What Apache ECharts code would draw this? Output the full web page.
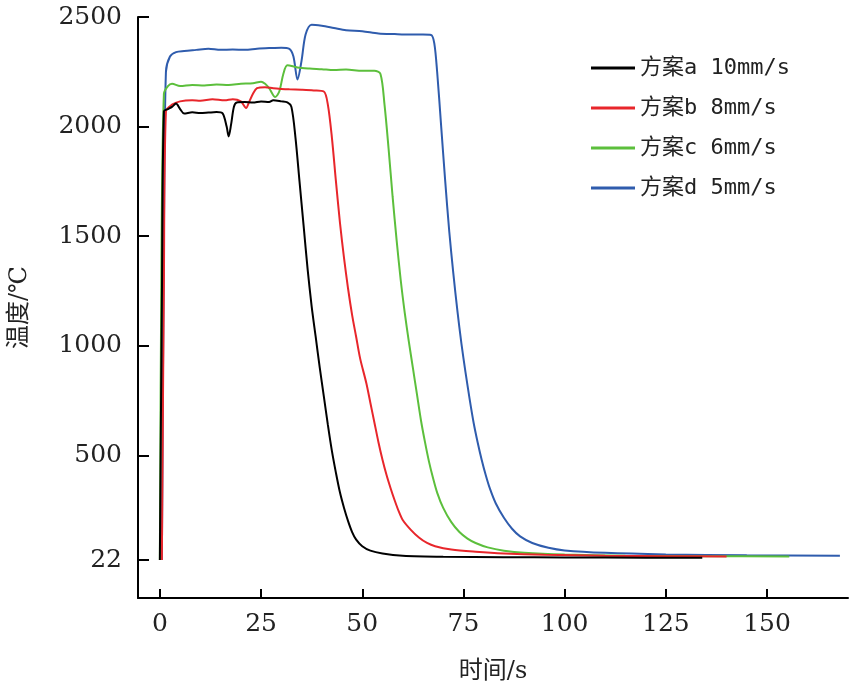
<!DOCTYPE html>
<html>
<head>
<meta charset="utf-8">
<script src="https://cdn.jsdelivr.net/npm/echarts@6/dist/echarts.min.js"></script>
<style>html,body{margin:0;padding:0;background:#fff}#chart{width:851px;height:690px}</style>
</head>
<body>
<div id="chart"></div>
<script>
var seriesNames = ['方案a 10mm/s', '方案b 8mm/s', '方案c 6mm/s', '方案d 5mm/s'];
var colors = ['#000000', '#e8262b', '#5cbf3c', '#2f5cad'];
var yTicks = [22, 500, 1000, 1500, 2000, 2500];
var xTicks = [0, 25, 50, 75, 100, 125, 150];

var dataA = [[0,22],[0.5,1200],[1,2070],[2,2080],[3,2090],[4,2105],[5,2080],[6,2060],[8,2065],[10,2062],[12,2064],[14,2066],[15.5,2060],[16.5,2000],[17,1955],[17.6,2010],[18.3,2090],[19,2110],[21,2112],[23,2110],[25,2115],[27,2112],[28,2120],[30,2115],[31.5,2110],[32.5,2090],[33.5,1950],[34.5,1750],[35.5,1550],[36.5,1350],[37.5,1180],[38.5,1040],[39.5,900],[40.5,770],[41.5,640],[42.5,520],[43.5,420],[44.5,330],[45.5,260],[46.5,200],[47.5,150],[48.5,115],[50,85],[52,65],[55,52],[60,42],[70,37],[85,35],[100,34],[120,33],[134,33]];
var dataB = [[0.5,22],[1,1300],[1.5,2070],[3,2100],[5,2115],[8,2120],[10,2118],[13,2125],[16,2120],[18,2125],[20,2115],[21.3,2085],[22,2110],[23,2150],[24,2175],[26,2180],[28,2175],[30,2172],[32,2170],[35,2168],[38,2165],[40.5,2160],[41.5,2100],[42.5,1950],[43.5,1750],[44.5,1560],[45.5,1400],[46.5,1260],[47.5,1140],[48.5,1040],[49.5,940],[51,830],[52,740],[53,650],[54,560],[55,480],[56,410],[57,350],[58,295],[59,245],[60,205],[62,160],[64,125],[66,100],[68,85],[72,70],[78,60],[85,52],[95,46],[110,42],[125,40],[140,38]];
var dataC = [[0,22],[0.4,1400],[1,2150],[2,2185],[3,2195],[5,2185],[8,2190],[11,2188],[14,2192],[17,2190],[20,2195],[23,2198],[25,2205],[26,2195],[27,2175],[28.5,2135],[29.5,2160],[30.5,2240],[31.5,2280],[34,2270],[37,2265],[40,2262],[43,2258],[46,2260],[50,2255],[53,2255],[54.5,2240],[55.5,2100],[56.5,1900],[57.5,1680],[58.5,1480],[59.5,1300],[60.5,1150],[61.5,1020],[62.5,900],[63.5,780],[64.5,660],[65.5,560],[66.5,470],[67.5,395],[68.5,330],[70,260],[72,195],[74,150],[76,120],[78,100],[81,80],[85,65],[90,55],[100,47],[115,42],[135,40],[155.5,38]];
var dataD = [[0.5,22],[1,1500],[1.5,2250],[2.5,2320],[4,2340],[6,2345],[9,2350],[12,2355],[15,2350],[18,2352],[21,2350],[24,2355],[27,2358],[30,2360],[32,2355],[33,2320],[34,2215],[35,2300],[36,2420],[37.5,2465],[40,2460],[43,2450],[46,2440],[50,2435],[54,2425],[58,2422],[62,2420],[65,2420],[67,2418],[67.8,2380],[68.5,2250],[69.5,2000],[70.5,1750],[71.5,1520],[72.5,1330],[73.5,1160],[74.5,1010],[75.5,880],[76.5,760],[77.5,650],[78.5,560],[79.5,480],[80.5,410],[81.5,350],[83,280],[85,215],[87,165],[89,130],[92,100],[96,78],[100,66],[110,55],[125,48],[145,44],[168,42]];
var allData = [dataA, dataB, dataC, dataD];

var chart = echarts.init(document.getElementById('chart'));
var serifFont = '"DejaVu Serif", "Noto Sans CJK SC", serif';

var series = allData.map(function (d, i) {
  return {
    name: seriesNames[i],
    type: 'line',
    data: d,
    showSymbol: false,
    smooth: 0.3,
    lineStyle: { color: colors[i], width: 2 },
    itemStyle: { color: colors[i] },
    z: 4 - i
  };
});

chart.setOption({
  animation: false,
  grid: { left: 138, right: 3, top: 17, bottom: 92, containLabel: false, outerBoundsMode: 'none' },
  legend: {
    orient: 'vertical',
    left: 586,
    top: 52,
    itemWidth: 44,
    itemHeight: 3,
    itemGap: 18,
    icon: 'rect',
    textStyle: { fontFamily: '"DejaVu Sans Mono", "Noto Sans CJK SC", monospace', fontSize: 22, color: '#222' },
    data: seriesNames
  },
  xAxis: {
    type: 'value',
    min: -5.4,
    max: 170,
    name: '时间/s',
    nameLocation: 'middle',
    nameGap: 62,
    nameTextStyle: { fontFamily: serifFont, fontSize: 24, color: '#222' },
    axisLine: { show: true, onZero: false, lineStyle: { color: '#000', width: 2 } },
    axisTick: { show: true, inside: true, length: 9, lineStyle: { color: '#000', width: 2 }, customValues: xTicks },
    axisLabel: { customValues: xTicks, formatter: function (v) { return String(v); }, fontFamily: serifFont, fontSize: 25, color: '#222', margin: 14 },
    splitLine: { show: false }
  },
  yAxis: {
    type: 'value',
    min: -151,
    max: 2500,
    name: '温度/℃',
    nameLocation: 'middle',
    nameGap: 106,
    nameRotate: 90,
    nameTextStyle: { fontFamily: serifFont, fontSize: 24, color: '#222' },
    axisLine: { show: true, onZero: false, lineStyle: { color: '#000', width: 2 } },
    axisTick: { show: true, inside: true, length: 11, lineStyle: { color: '#000', width: 2 }, customValues: yTicks },
    axisLabel: { customValues: yTicks, formatter: function (v) { return String(v); }, fontFamily: serifFont, fontSize: 25, color: '#222', margin: 16 },
    splitLine: { show: false }
  },
  series: series
});
</script>
</body>
</html>
